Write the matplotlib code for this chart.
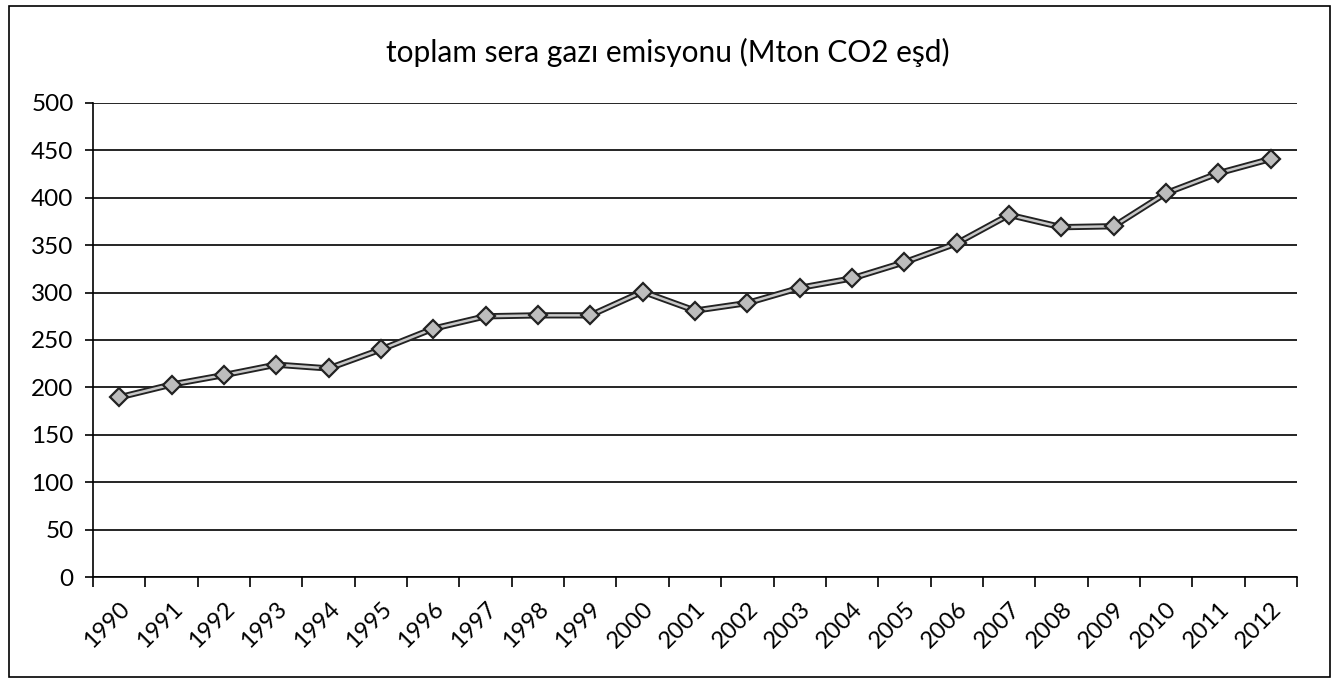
import matplotlib
matplotlib.use("Agg")
import matplotlib.pyplot as plt
from matplotlib.patches import Rectangle
import numpy as np

years = ["1990", "1991", "1992", "1993", "1994", "1995", "1996", "1997",
         "1998", "1999", "2000", "2001", "2002", "2003", "2004", "2005",
         "2006", "2007", "2008", "2009", "2010", "2011", "2012"]
emissions = [189.5, 203, 213, 224, 220, 240, 262, 275, 276, 276, 301, 281,
             289, 305, 315, 332, 352, 382, 369, 370, 405, 426, 441]
y_ticks = [0, 50, 100, 150, 200, 250, 300, 350, 400, 450, 500]
title = "toplam sera gazı emisyonu (Mton CO2 eşd)"

plt.rcParams['font.family'] = ['Lato', 'DejaVu Sans']

W, H = 1339, 690
fig = plt.figure(figsize=(W / 100, H / 100), dpi=100)
ax = fig.add_axes([93 / W, 1 - 577 / H, (1297 - 93) / W, (577 - 103) / H])

x = np.arange(len(years))
ax.plot(x, emissions, color="#222222", lw=4.5, zorder=3, solid_capstyle='round')
ax.plot(x, emissions, color="#c8c8c8", lw=1.8, zorder=4,
        marker='D', markersize=9.5, markerfacecolor="#bdbdbd",
        markeredgecolor="#222222", markeredgewidth=1.6)

ax.set_xlim(-0.5, len(years) - 0.5)
ax.set_ylim(0, 500)
ax.set_yticks(y_ticks)
ax.set_yticklabels([str(v) for v in y_ticks], fontsize=17.5)
ax.yaxis.grid(True, color="black", lw=1.2)
ax.set_axisbelow(True)

ax.set_xticks(x)
ax.set_xticklabels(years, fontsize=17, rotation=45, ha='right',
                   rotation_mode='anchor')
ax.set_xticks(np.arange(len(years) + 1) - 0.5, minor=True)
ax.tick_params(axis='x', which='major', length=0, pad=15)
ax.tick_params(axis='x', which='minor', length=7, width=1.2, color='black')
ax.tick_params(axis='y', length=6, width=1.2, pad=8)

for s in ['top', 'right']:
    ax.spines[s].set_visible(False)
for s in ['left', 'bottom']:
    ax.spines[s].set_linewidth(1.2)
    ax.spines[s].set_color('black')

fig.text(668 / W, 1 - 52 / H, title, ha='center', va='center', fontsize=21.5)

fig.patches.append(Rectangle((9 / W, 1 - 677 / H), (1330 - 9) / W, (677 - 6) / H,
                             transform=fig.transFigure, fill=False,
                             edgecolor='black', lw=1.2))

fig.savefig("out.png", dpi=100)
